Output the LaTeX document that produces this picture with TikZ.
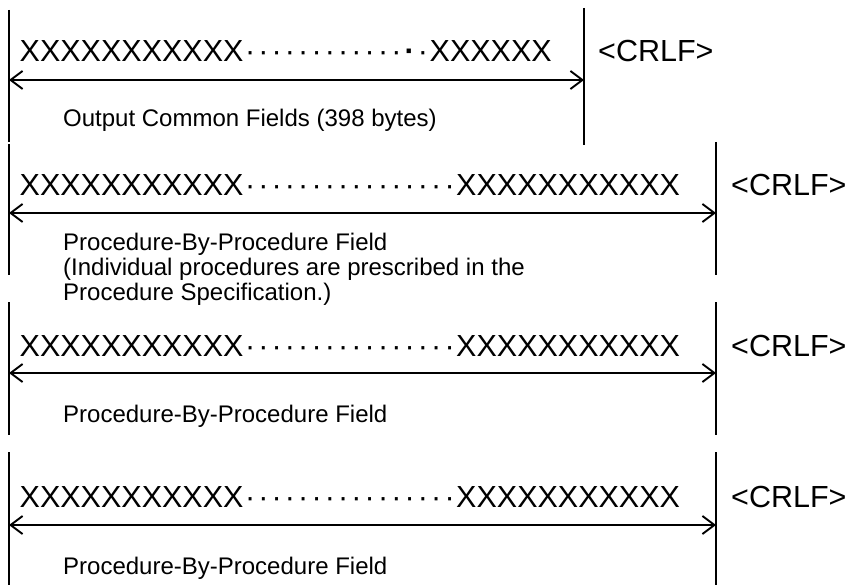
\documentclass[tikz,border=0pt]{standalone}
\usepackage{fontspec}
\setmainfont{Liberation Sans}
\usetikzlibrary{arrows.meta}
\newcommand{\dotrun}[1]{\foreach \i in {1,...,#1}{\makebox[13.3pt]{·}}}
\newcommand{\bigdot}{\makebox[13.3pt]{\textbf{·}}}
\begin{document}
\begin{tikzpicture}[x=1pt, y=-1pt,
  every node/.style = {inner sep=0pt, anchor=base west},
  field/.style = {font=\fontsize{30.5}{36}\selectfont},
  note/.style = {font=\fontsize{24}{29}\selectfont},
  bar/.style = {line width=1.9pt},
  span/.style = {line width=1.9pt, {Straight Barb[length=12pt,width=18pt]}-{Straight Barb[length=12pt,width=18pt]}}]
  \useasboundingbox (0,0) rectangle (851,585);
  % output common fields
  \coordinate (b1a) at (9,10);    \coordinate (b1b) at (9,142);
  \coordinate (e1a) at (584,8);   \coordinate (e1b) at (584,145);
  \coordinate (s1a) at (9,80);    \coordinate (s1b) at (584,80);
  \draw[bar] (b1a) -- (b1b);
  \draw[bar] (e1a) -- (e1b);
  \draw[span] (s1a) -- (s1b);
  \node[field] (rec1) at (19.5,62) {XXXXXXXXXXX\dotrun{12}\bigdot\dotrun{1}XXXXXX};
  \node[field] (crlf1) at (598,62) {<CRLF>};
  \node[note] (lab1) at (63,127) {Output Common Fields (398 bytes)};
  % procedure-by-procedure field 1
  \coordinate (b2a) at (9,144);   \coordinate (b2b) at (9,275);
  \coordinate (e2a) at (716,142); \coordinate (e2b) at (716,275);
  \coordinate (s2a) at (9,213);   \coordinate (s2b) at (716,213);
  \draw[bar] (b2a) -- (b2b);
  \draw[bar] (e2a) -- (e2b);
  \draw[span] (s2a) -- (s2b);
  \node[field] (rec2) at (19.5,196) {XXXXXXXXXXX\dotrun{16}XXXXXXXXXXX};
  \node[field] (crlf2) at (731,196) {<CRLF>};
  \node[note] (lab2) at (63,251) {Procedure-By-Procedure Field};
  \node[note] (lab2b) at (63,276) {(Individual procedures are prescribed in the};
  \node[note] (lab2c) at (63,301) {Procedure Specification.)};
  % procedure-by-procedure field 2
  \coordinate (b3a) at (9,302);   \coordinate (b3b) at (9,435);
  \coordinate (e3a) at (716,302); \coordinate (e3b) at (716,435);
  \coordinate (s3a) at (9,373);   \coordinate (s3b) at (716,373);
  \draw[bar] (b3a) -- (b3b);
  \draw[bar] (e3a) -- (e3b);
  \draw[span] (s3a) -- (s3b);
  \node[field] (rec3) at (19.5,356) {XXXXXXXXXXX\dotrun{16}XXXXXXXXXXX};
  \node[field] (crlf3) at (731,356) {<CRLF>};
  \node[note] (lab3) at (63,422) {Procedure-By-Procedure Field};
  % procedure-by-procedure field 3
  \coordinate (b4a) at (9,452);   \coordinate (b4b) at (9,585);
  \coordinate (e4a) at (716,452); \coordinate (e4b) at (716,585);
  \coordinate (s4a) at (9,525);   \coordinate (s4b) at (716,525);
  \draw[bar] (b4a) -- (b4b);
  \draw[bar] (e4a) -- (e4b);
  \draw[span] (s4a) -- (s4b);
  \node[field] (rec4) at (19.5,507) {XXXXXXXXXXX\dotrun{16}XXXXXXXXXXX};
  \node[field] (crlf4) at (731,507) {<CRLF>};
  \node[note] (lab4) at (63,574) {Procedure-By-Procedure Field};
\end{tikzpicture}
\end{document}
